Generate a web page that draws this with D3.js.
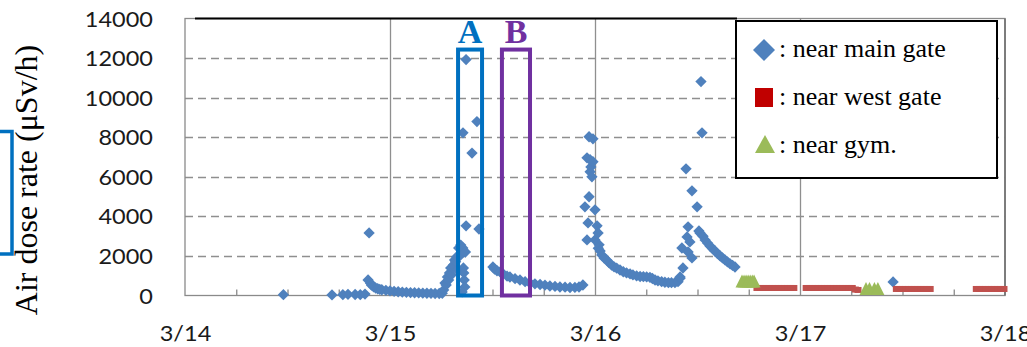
<!DOCTYPE html>
<html><head><meta charset="utf-8">
<script src="https://cdn.jsdelivr.net/npm/d3@7"></script>
<style>
html,body{margin:0;padding:0;background:#fff;}
svg{display:block;}
</style></head>
<body>
<svg id="chart" width="1027" height="347"></svg>
<script>
// ---- data (time in days after 3/14 00:00, dose in µSv/h) ----
const dayLabels = ["3/14", "3/15", "3/16", "3/17", "3/18"];
const dayTicks = [0, 1, 2, 3, 4];
const yTicks = [0, 2000, 4000, 6000, 8000, 10000, 12000, 14000];

const mainGateDay = [
  0.48, 0.717, 0.77, 0.795, 0.83, 0.855, 0.878, 0.893, 0.898,
  0.905, 0.91, 0.92, 0.93, 0.94, 0.95, 0.96, 0.98, 1.00, 1.02, 1.04, 1.06, 1.08, 1.10,
  1.12, 1.14, 1.16, 1.18, 1.20, 1.22, 1.24, 1.255,
  1.262, 1.268, 1.274, 1.28, 1.286, 1.29, 1.296, 1.30, 1.305, 1.31, 1.315, 1.32, 1.325,
  1.33, 1.335, 1.34, 1.345, 1.35, 1.355, 1.356, 1.358, 1.36, 1.362, 1.365, 1.352, 1.368,
  1.371, 1.371, 1.40, 1.424, 1.434,
  1.502, 1.51, 1.522, 1.537, 1.551, 1.571, 1.585, 1.61, 1.634, 1.659, 1.683, 1.707,
  1.732, 1.756, 1.78, 1.805, 1.829, 1.854, 1.878, 1.902, 1.922, 1.941,
  1.951, 1.961, 1.961, 1.966, 1.971, 1.971, 1.976, 1.976, 1.98, 1.985, 1.99, 1.99,
  2.0, 2.0, 2.01, 2.015, 2.02,
  2.016, 2.025, 2.033, 2.044, 2.057, 2.068, 2.081, 2.093, 2.106, 2.122, 2.138, 2.154,
  2.171, 2.185, 2.203, 2.22, 2.236, 2.252, 2.268, 2.28, 2.293, 2.307, 2.325, 2.341,
  2.358, 2.373, 2.39, 2.405, 2.415,
  2.415, 2.424, 2.429, 2.444, 2.449, 2.454, 2.454, 2.463, 2.473, 2.473, 2.498, 2.507,
  2.517, 2.522,
  2.512, 2.527, 2.537, 2.549, 2.561, 2.573, 2.585, 2.598, 2.61, 2.622, 2.634, 2.646,
  2.659, 2.671, 2.683,
  3.454
];
const mainGateDose = [
  40, 30, 40, 60, 50, 40, 70, 785, 3165,
  620, 520, 440, 380, 340, 310, 290, 260, 230, 210, 190, 175, 160, 150,
  140, 130, 120, 115, 110, 100, 100, 110,
  280, 630, 530, 940, 780, 1140, 1390, 1050, 1440, 1540, 1800, 1700, 1950,
  1300, 2400, 2000, 2550, 2300, 2400, 8220, 1390, 1140, 785, 430, 180, 2200,
  3520, 11924, 7200, 8790, 3360,
  1440, 1340, 1250, 1190, 1100, 980, 935, 850, 785, 700, 630, 590,
  555, 520, 480, 460, 430, 420, 405, 410, 430, 530,
  4480, 6960, 2810, 3670, 8025, 4990, 6860, 6250, 6500, 6000, 7920, 6760,
  4330, 2810, 3520, 3160, 2560,
  2390, 2250, 2050, 1900, 1800, 1660, 1540, 1450, 1380, 1290, 1200, 1140,
  1090, 1040, 990, 960, 950, 940, 920, 860, 785, 740, 700, 670,
  650, 650, 650, 700, 870,
  940, 2400, 1390, 6400, 2960, 3470, 2200, 2710, 5290, 1900, 4480, 3260,
  10810, 8220,
  3160, 3000, 2810, 2650, 2500, 2370, 2250, 2120, 2000, 1900, 1800, 1700,
  1600, 1520, 1440,
  685
];

const westGateDay = [
  2.79, 2.805, 2.82, 2.835, 2.85, 2.865, 2.88, 2.895, 2.91, 2.925, 2.94, 2.955, 2.97,
  3.03, 3.045, 3.06, 3.075, 3.09, 3.105, 3.12, 3.135, 3.15, 3.165, 3.18, 3.195, 3.21,
  3.225, 3.24, 3.255, 3.27, 3.283,
  3.47, 3.485, 3.5, 3.515, 3.53, 3.545, 3.56, 3.575, 3.59, 3.605, 3.62, 3.635,
  3.86, 3.875, 3.89, 3.905, 3.92, 3.935, 3.95, 3.965, 3.98, 3.995
];
const westGateDose = [
  380, 380, 380, 380, 380, 380, 380, 380, 380, 380, 380, 380, 380,
  380, 380, 380, 380, 380, 380, 380, 380, 380, 380, 380, 380, 380,
  380, 380, 380, 300, 280,
  330, 330, 330, 330, 330, 330, 330, 330, 330, 330, 330, 330,
  330, 330, 330, 330, 330, 330, 330, 330, 330, 330
];

const gymDay = [2.717, 2.727, 2.737, 2.747, 2.757, 2.767, 2.776, 3.322, 3.339, 3.363, 3.38];
const gymDose = [735, 735, 735, 735, 735, 735, 735, 355, 355, 355, 355];

const legendLabels = [": near main gate", ": near west gate", ": near gym."];
const boxLabels = ["A", "B"];
const boxStartDay = [1.332, 1.546];
const boxEndDay = [1.449, 1.683];
const boxTopDose = 12430;

// ---- styles ----
const blue = "#4F81BD", red = "#C0504D", green = "#9BBB59";
const gridColor = "#8f8f8f";

const svg = d3.select("#chart");
svg.append("rect").attr("width", 1027).attr("height", 347).attr("fill", "#fff");

const x = d3.scaleLinear().domain([0, 4]).range([185, 1005]);
const y = d3.scaleLinear().domain([0, 14000]).range([295.5, 18.5]);

// horizontal dashed gridlines
svg.append("g").selectAll("line").data(yTicks.filter(v => v > 0 && v < 14000)).join("line")
  .attr("x1", x(0)).attr("x2", x(4))
  .attr("y1", d => Math.round(y(d)) + 0.5).attr("y2", d => Math.round(y(d)) + 0.5)
  .attr("stroke", gridColor).attr("stroke-width", 1.3).attr("stroke-dasharray", "8,5");

// vertical day gridlines
svg.append("g").selectAll("line").data(dayTicks.filter(d => d > 0 && d < 4)).join("line")
  .attr("x1", d => Math.round(x(d)) + 0.5).attr("x2", d => Math.round(x(d)) + 0.5)
  .attr("y1", y(14000)).attr("y2", y(0))
  .attr("stroke", gridColor).attr("stroke-width", 1.3);

// frame
svg.append("rect").attr("x", x(0)).attr("y", y(14000)).attr("width", x(4) - x(0)).attr("height", y(0) - y(14000))
  .attr("fill", "none").attr("stroke", "#8a8a8a").attr("stroke-width", 1.3);
svg.append("line").attr("x1", x(4)).attr("x2", x(4)).attr("y1", y(14000)).attr("y2", y(0))
  .attr("stroke", "#777").attr("stroke-width", 1.8);
svg.append("line").attr("x1", 195).attr("x2", 737).attr("y1", y(14000)).attr("y2", y(14000))
  .attr("stroke", "#000").attr("stroke-width", 2);

// minor 6-hour ticks
const minorAxis = d3.axisBottom(x).tickValues(d3.range(0.25, 4, 0.25).filter(d => d % 1 !== 0))
  .tickSize(-6).tickFormat("");
svg.append("g").attr("transform", `translate(0,${y(0)})`).call(minorAxis)
  .call(g => g.select(".domain").remove())
  .call(g => g.selectAll("line").attr("stroke", "#8a8a8a").attr("stroke-width", 1.3));

// fonts
const sx = 1.12;
const yAxis = d3.axisLeft(y).tickValues(yTicks).tickSize(0).tickPadding(32).tickFormat(d3.format("d"));
svg.append("g").attr("transform", `translate(${x(0)},0)`).call(yAxis)
  .call(g => g.select(".domain").remove())
  .call(g => g.selectAll("text")
    .attr("font-family", "Lato, 'Open Sans', sans-serif").attr("font-size", 21)
    .attr("fill", "#1a1a1a").attr("x", -32 / sx).attr("dy", "0.36em")
    .attr("transform", `scale(${sx},1)`));

const xAxis = d3.axisBottom(x).tickValues(dayTicks).tickSize(0).tickPadding(31)
  .tickFormat((d, i) => dayLabels[i]);
svg.append("g").attr("transform", `translate(0,${y(0)})`).call(xAxis)
  .call(g => g.select(".domain").remove())
  .call(g => g.selectAll("text")
    .attr("font-family", "Lato, 'Open Sans', sans-serif").attr("font-size", 21)
    .attr("fill", "#1a1a1a").attr("transform", `scale(${sx},1)`));

// y title
svg.append("text").attr("transform", "translate(37,180) rotate(-90)")
  .attr("text-anchor", "middle").attr("font-family", "'Liberation Serif', 'Times New Roman', serif")
  .attr("font-size", 32).attr("fill", "#000").text("Air dose rate (μSv/h)");

// blue bracket at left edge
svg.append("path").attr("d", "M0,131.5 H12 V254 H0").attr("fill", "none")
  .attr("stroke", "#0070C0").attr("stroke-width", 3.5);

// series
const diamond = d3.symbol().type(d3.symbolSquare).size(64);
const mainData = mainGateDay.map((d, i) => [d, mainGateDose[i]]);
svg.append("g").selectAll("path").data(mainData).join("path")
  .attr("d", diamond)
  .attr("transform", d => `translate(${x(d[0])},${y(d[1])}) rotate(45)`)
  .attr("fill", blue);

const westData = westGateDay.map((d, i) => [d, westGateDose[i]]);
svg.append("g").selectAll("rect").data(westData).join("rect")
  .attr("x", d => x(d[0]) - 3.5).attr("y", d => y(d[1]) - 3)
  .attr("width", 7).attr("height", 6).attr("fill", red);

const gymData = gymDay.map((d, i) => [d, gymDose[i]]);
svg.append("g").selectAll("path").data(gymData).join("path")
  .attr("d", "M0,-6.5 L6.5,6.5 L-6.5,6.5 Z")
  .attr("transform", d => `translate(${x(d[0])},${y(d[1])})`)
  .attr("fill", green);

// legend
const lg = svg.append("g");
lg.append("rect").attr("x", 736).attr("y", 21).attr("width", 261).attr("height", 157)
  .attr("fill", "#fff").attr("stroke", "#000").attr("stroke-width", 2);
const rowY = [57, 105, 153];
lg.append("path").attr("d", "M764,39 L775,50 L764,61 L753,50 Z").attr("fill", blue);
lg.append("rect").attr("x", 755).attr("y", 88).attr("width", 18).attr("height", 19).attr("fill", "#C00000");
lg.append("path").attr("d", "M765,135 L775,153 L755,153 Z").attr("fill", green);
lg.selectAll("text").data(legendLabels).join("text")
  .attr("x", 779).attr("y", (d, i) => rowY[i])
  .attr("font-family", "'Liberation Serif', 'Times New Roman', serif").attr("font-size", 26)
  .attr("fill", "#000").text(d => d);

// A / B boxes
const boxColors = ["#0070C0", "#7030A0"];
boxLabels.forEach((lab, i) => {
  const x0 = x(boxStartDay[i]), x1 = x(boxEndDay[i]);
  svg.append("rect").attr("x", x0).attr("y", y(boxTopDose)).attr("width", x1 - x0)
    .attr("height", y(0) - y(boxTopDose)).attr("fill", "none")
    .attr("stroke", boxColors[i]).attr("stroke-width", 4);
  svg.append("text").attr("x", (x0 + x1) / 2).attr("y", 43).attr("text-anchor", "middle")
    .attr("font-family", "'Liberation Serif', 'Times New Roman', serif").attr("font-size", 34)
    .attr("font-weight", "bold")
    .attr("fill", boxColors[i]).text(lab);
});
</script>
</body></html>
